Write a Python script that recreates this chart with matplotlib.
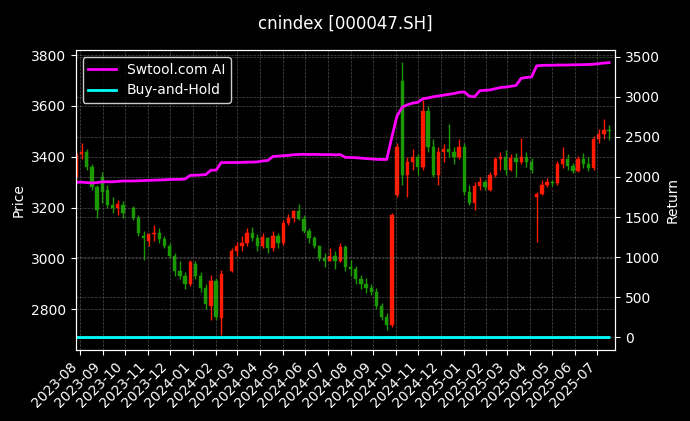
import numpy as np
import pandas as pd
import matplotlib
matplotlib.use('Agg')
import matplotlib.pyplot as plt
import matplotlib.dates as mdates

nan = np.nan

# weekly candles, dated on the Thursday of each week
week_start = '2023-07-27'
opens = [3320, 3410, 3420, 3360, 3280, 3320, 3270, 3210, 3200, 3210,
         nan, 3200, 3160, 3090, 3070, 3095, 3100, 3075, 3050, 3010,
         2950, 2930, 2900, 2980, 2930, 2885, 2815, 2910, 2765, nan,
         2950, 3030, 3050, 3060, 3100, 3080, 3050, 3080, 3040, 3090,
         3060, 3140, 3160, 3185, 3155, 3110, 3080, 3050, 3000, 2990,
         3010, 2990, 3045, 2965, 2960, 2920, 2900, 2885, 2870, 2815,
         2770, 2740, 3250, 3700, 3330, 3380, 3400, 3360, 3580, 3440,
         3330, 3420, 3430, 3420, 3400, 3440, 3260, 3220, 3285, 3300,
         3270, 3330, 3390, 3400, 3350, 3395, 3380, 3400, 3380, 3240,
         3255, 3290, 3300, 3295, 3370, 3390, 3365, 3345, 3390, 3370,
         3355, 3470, 3490, 3505]
highs = [3420, 3455, 3430, 3370, 3290, 3340, 3290, 3240, 3230, 3225,
         nan, 3205, 3170, 3110, 3100, 3130, 3120, 3090, 3060, 3020,
         2990, 2945, 2995, 2990, 2945, 2900, 2935, 2925, 2955, nan,
         3040, 3065, 3090, 3120, 3125, 3095, 3100, 3085, 3110, 3100,
         3150, 3175, 3190, 3215, 3170, 3120, 3090, 3055, 3020, 3040,
         3030, 3060, 3055, 2995, 2970, 2935, 2925, 2900, 2885, 2825,
         2785, 3180, 3455, 3773, 3400, 3430, 3410, 3625, 3600, 3470,
         3440, 3450, 3530, 3440, 3470, 3455, 3290, 3300, 3320, 3310,
         3340, 3400, 3420, 3425, 3410, 3415, 3475, 3420, 3395, 3260,
         3310, 3315, 3310, 3385, 3440, 3410, 3375, 3405, 3415, 3400,
         3480, 3510, 3550, 3525]
lows = [3310, 3390, 3350, 3270, 3160, 3220, 3200, 3180, 3170, 3160,
        nan, 3150, 3090, 2995, 3050, 3070, 3060, 3040, 3000, 2930,
        2920, 2880, 2890, 2920, 2870, 2800, 2760, 2760, 2700, nan,
        2945, 3010, 3030, 3050, 3070, 3030, 3040, 3020, 3030, 3040,
        3055, 3130, 3145, 3150, 3100, 3060, 3040, 2990, 2965, 2990,
        2960, 2985, 2950, 2930, 2900, 2880, 2865, 2855, 2800, 2760,
        2720, 2730, 3240, 3290, 3240, 3350, 3330, 3350, 3420, 3320,
        3290, 3380, 3400, 3370, 3390, 3250, 3210, 3190, 3270, 3270,
        3265, 3320, 3350, 3330, 3345, 3320, 3370, 3360, 3335, 3064,
        3250, 3280, 3285, 3290, 3355, 3350, 3335, 3340, 3355, 3345,
        3350, 3455, 3470, 3465]
closes = [3410, 3420, 3360, 3280, 3190, 3260, 3210, 3200, 3215, 3180,
          nan, 3160, 3100, 3080, 3095, 3100, 3075, 3050, 3010, 2950,
          2930, 2900, 2985, 2930, 2885, 2820, 2910, 2770, 2940, nan,
          3030, 3050, 3060, 3100, 3080, 3050, 3085, 3040, 3090, 3060,
          3140, 3160, 3185, 3155, 3110, 3080, 3050, 3000, 2990, 3010,
          2990, 3045, 2965, 2960, 2920, 2900, 2885, 2870, 2815, 2770,
          2740, 3170, 3440, 3330, 3380, 3400, 3360, 3580, 3440, 3330,
          3420, 3430, 3420, 3400, 3440, 3260, 3220, 3285, 3300, 3280,
          3330, 3390, 3400, 3350, 3395, 3380, 3400, 3380, 3350, 3255,
          3290, 3300, 3295, 3370, 3390, 3365, 3345, 3390, 3370, 3355,
          3470, 3490, 3505, 3500]

# strategy cumulative return (right axis)
strategy = [1935, 1935, 1930, 1925, 1930, 1940, 1940, 1940, 1945, 1950,
            1950, 1950, 1952, 1955, 1958, 1960, 1962, 1965, 1968, 1970,
            1970, 1975, 2020, 2022, 2025, 2030, 2085, 2085, 2180, 2180,
            2180, 2180, 2182, 2185, 2185, 2188, 2200, 2205, 2255, 2260,
            2265, 2270, 2278, 2280, 2283, 2280, 2282, 2280, 2278, 2280,
            2275, 2280, 2245, 2243, 2240, 2235, 2230, 2225, 2220, 2218,
            2218, 2500, 2760, 2870, 2900, 2920, 2930, 2975, 2985, 3000,
            3010, 3020, 3030, 3040, 3055, 3060, 3005, 3000, 3075, 3080,
            3085, 3100, 3115, 3120, 3130, 3140, 3230, 3240, 3245, 3385,
            3390, 3392, 3392, 3395, 3395, 3395, 3398, 3398, 3400, 3402,
            3405, 3412, 3420, 3425]

dates = pd.date_range(week_start, periods=len(closes), freq='7D')
df = pd.DataFrame({'open': opens, 'high': highs, 'low': lows, 'close': closes,
                   'strategy': strategy}, index=dates)
bh = df['close'].ffill() / df['close'].iloc[0] - 1

fig = plt.figure(figsize=(6.9, 4.21), dpi=100, facecolor='black')
ax = fig.add_axes([0.1097, 0.1686, 0.7816, 0.7126])
ax.set_facecolor('black')
ax2 = ax.twinx()

x = mdates.date2num(df.index.to_pydatetime())
up = df['close'] >= df['open']
col = np.where(up, '#ff1a00', '#1a9900')
ax.vlines(x, df['low'], df['high'], colors=col, linewidth=1.0)
ax.bar(x, (df['close'] - df['open']).abs(), bottom=df[['open', 'close']].min(axis=1),
       width=4.5, color=col, edgecolor=col, linewidth=0.3)

ax2.plot(df.index, df['strategy'], color='#ff00ff', linewidth=2, label='Swtool.com AI')
ax2.plot(df.index, bh, color='cyan', linewidth=2, label='Buy-and-Hold')

ax.set_xlim(mdates.datestr2num('2023-07-26'), mdates.datestr2num('2025-07-25'))
ax.set_ylim(2640, 3820)
ax2.set_ylim(-156, 3582)

ax.xaxis.set_major_locator(mdates.MonthLocator())
ax.xaxis.set_major_formatter(mdates.DateFormatter('%Y-%m'))
plt.setp(ax.get_xticklabels(), rotation=45, ha='right')

for a in (ax, ax2):
    a.tick_params(colors='white', labelsize=10)
    for s in a.spines.values():
        s.set_color('white')
    a.grid(True, color='gray', linestyle='--', linewidth=0.5, alpha=0.6)

ax.set_ylabel('Price', color='white', fontsize=10)
ax2.set_ylabel('Return', color='white', fontsize=10)

leg = ax2.legend(loc='upper left', facecolor='black', edgecolor='white',
                 labelcolor='white', fontsize=10)

fig.suptitle('cnindex [000047.SH]', color='white', fontsize=12, y=0.965)

fig.savefig('out.png', dpi=100, facecolor='black')
